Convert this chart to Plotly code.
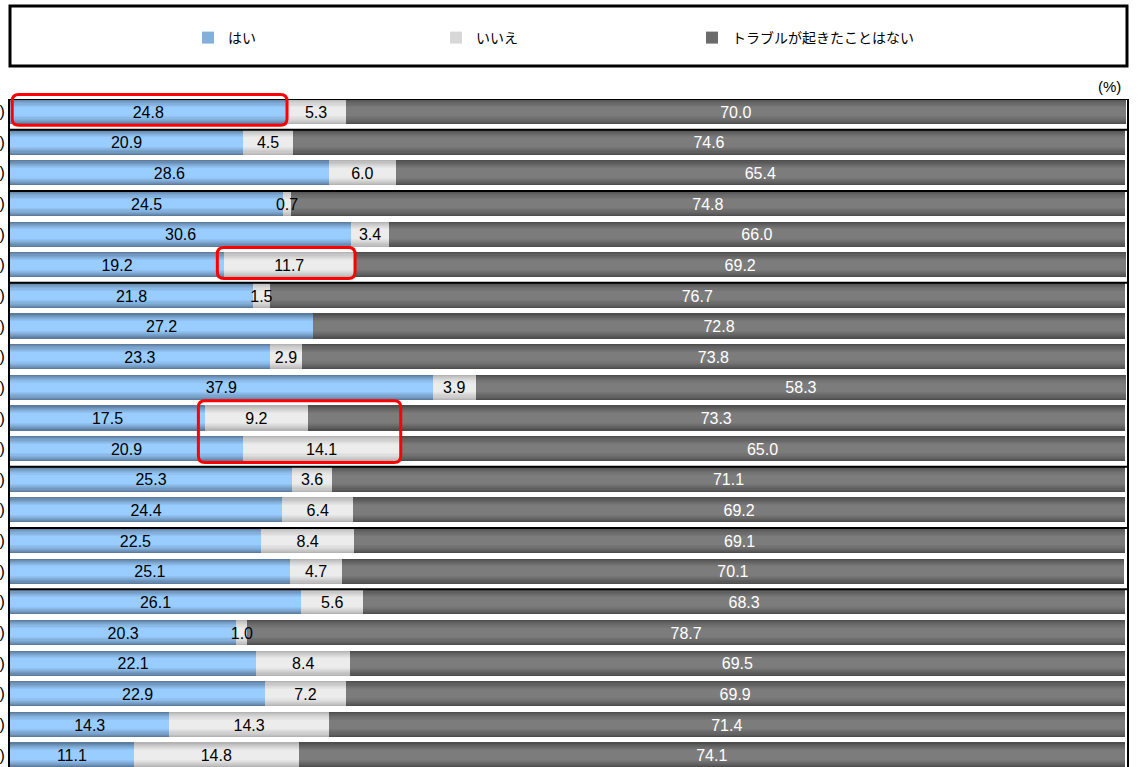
import plotly.graph_objects as go

# ---------------- data ----------------
rows = list(range(22))
row_labels = [")"] * 22
series_names = ["はい", "いいえ", "トラブルが起きたことはない"]
yes = [24.8, 20.9, 28.6, 24.5, 30.6, 19.2, 21.8, 27.2, 23.3, 37.9, 17.5,
       20.9, 25.3, 24.4, 22.5, 25.1, 26.1, 20.3, 22.1, 22.9, 14.3, 11.1]
no = [5.3, 4.5, 6.0, 0.7, 3.4, 11.7, 1.5, 0.0, 2.9, 3.9, 9.2,
      14.1, 3.6, 6.4, 8.4, 4.7, 5.6, 1.0, 8.4, 7.2, 14.3, 14.8]
never = [70.0, 74.6, 65.4, 74.8, 66.0, 69.2, 76.7, 72.8, 73.8, 58.3, 73.3,
         65.0, 71.1, 69.2, 69.1, 70.1, 68.3, 78.7, 69.5, 69.9, 71.4, 74.1]
group_breaks = [1, 3, 6, 12, 14, 16]          # separator after these row counts
highlights = [(0, 0, 0), (1, 5, 5), (1, 10, 11)]  # (series, first row, last row)

# ---------------- style ----------------
edge_colors = [(0x5C, 0x7D, 0x9E), (0xB4, 0xB4, 0xB4), (0x4E, 0x4E, 0x4E)]
center_colors = [(0x99, 0xCC, 0xFF), (0xEC, 0xEC, 0xEC), (0x7C, 0x7C, 0x7C)]
label_colors = ["#000000", "#000000", "#FFFFFF"]
bar_w = 0.82
n_layers = 9
label_dy = 0.07
FONT = "Liberation Sans, Arial, sans-serif"
JFONT = "Noto Sans CJK JP, sans-serif"

W, H = 1139, 767
ML, MR, MT, MB = 10, 12, 99, 0
plot_w = W - ML - MR
plot_h = H - MT - MB
row_px = 30.64
gap_half = (1 - bar_w) / 2
x_max = 100.2
y_top = -0.5 + gap_half
y_bot = y_top + plot_h / row_px


def mix(a, b, t):
    return "rgb(%d,%d,%d)" % tuple(round(a[i] + (b[i] - a[i]) * t) for i in range(3))


values = [yes, no, never]
bases = [[0.0] * 22,
         list(yes),
         [y + n for y, n in zip(yes, no)]]

fig = go.Figure()
legend_ids = ["legend", "legend2", "legend3"]
for s in range(3):
    for k in range(n_layers):
        frac = 1.0 - k / n_layers * 0.8
        t = min(1.0, (k / (n_layers - 1)) ** 0.8 * 1.1)
        fig.add_trace(go.Bar(
            orientation="h", y=rows, x=values[s], base=bases[s],
            width=bar_w * frac,
            marker=dict(color=mix(edge_colors[s], center_colors[s], t), line=dict(width=0)),
            name=series_names[s],
            showlegend=(k == n_layers // 2), legend=legend_ids[s],
            hoverinfo="skip",
        ))

# data labels
for s in range(3):
    xs = [b + v / 2 for b, v in zip(bases[s], values[s])]
    ys = [r + label_dy for r in rows]
    txt = ["%.1f" % v if v > 0 else "" for v in values[s]]
    fig.add_trace(go.Scatter(
        x=xs, y=ys, mode="text", text=txt, textposition="middle center",
        textfont=dict(family=FONT, size=16, color=label_colors[s]),
        showlegend=False, hoverinfo="skip",
    ))


def xd_to_paper(x):
    return x / x_max


def yd_to_paper(y):
    return (y_bot - y) / (y_bot - y_top)


def py_to_paper(py):
    return (H - MB - py) / plot_h


def px_to_paper(px):
    return (px - ML) / plot_w


shapes = []
# separators (at the top edge of the bar that starts a group)
for b in [0] + group_breaks:
    yb = b - 0.5 + gap_half
    shapes.append(dict(type="line", xref="paper", x0=0, x1=1, yref="y",
                       y0=yb, y1=yb, line=dict(color="black", width=2)))

# red highlight boxes (rounded), drawn in paper space so they are not clipped
rx, ry = 6.5 / plot_w, 6.5 / plot_h
for s, r0, r1 in highlights:
    x0 = min(bases[s][r] for r in range(r0, r1 + 1))
    x1 = max(bases[s][r] + values[s][r] for r in range(r0, r1 + 1))
    x0 = xd_to_paper(max(x0 - 0.6, 0.2))
    x1 = xd_to_paper(x1 + 0.05)
    ya = yd_to_paper(r1 + 0.45)   # bottom (paper)
    yb = yd_to_paper(r0 - 0.56)   # top (paper)
    path = (f"M {x0+rx},{yb} L {x1-rx},{yb} Q {x1},{yb} {x1},{yb-ry} "
            f"L {x1},{ya+ry} Q {x1},{ya} {x1-rx},{ya} L {x0+rx},{ya} "
            f"Q {x0},{ya} {x0},{ya+ry} L {x0},{yb-ry} Q {x0},{yb} {x0+rx},{yb} Z")
    shapes.append(dict(type="path", xref="paper", yref="paper", path=path,
                       line=dict(color="#FF0000", width=3)))

# legend box
shapes.append(dict(type="rect", xref="paper", yref="paper",
                   x0=0, x1=px_to_paper(1127), y0=py_to_paper(66), y1=py_to_paper(6),
                   line=dict(color="black", width=3), fillcolor="rgba(0,0,0,0)"))

leg_common = dict(orientation="h", yanchor="middle", xanchor="left",
                  y=py_to_paper(38), bgcolor="rgba(0,0,0,0)",
                  font=dict(family=JFONT, size=14, color="black"),
                  borderwidth=0)
leg_x = [188, 436, 692]

fig.update_layout(
    width=W, height=H,
    margin=dict(l=ML, r=MR, t=MT, b=MB, pad=0),
    plot_bgcolor="white", paper_bgcolor="white",
    barmode="overlay", bargap=0,
    showlegend=True,
    legend=dict(leg_common, x=px_to_paper(leg_x[0])),
    legend2=dict(leg_common, x=px_to_paper(leg_x[1])),
    legend3=dict(leg_common, x=px_to_paper(leg_x[2])),
    xaxis=dict(range=[0, x_max], showgrid=False, zeroline=False,
               showticklabels=False, ticks="", fixedrange=True),
    yaxis=dict(range=[y_bot, y_top], tickmode="array", tickvals=rows,
               ticktext=row_labels, showgrid=False, zeroline=False,
               showline=True, linecolor="black", linewidth=2, mirror=True,
               ticks="", tickfont=dict(family=FONT, size=16, color="black")),
    shapes=shapes,
    annotations=[dict(text="(%)", xref="paper", yref="paper", x=1, xshift=-4,
                      y=py_to_paper(87), xanchor="right", yanchor="middle",
                      showarrow=False, font=dict(family=FONT, size=15, color="black"))],
)

fig.write_html("out.html", config={"displayModeBar": False},
               post_script="document.body.style.margin='0';")
